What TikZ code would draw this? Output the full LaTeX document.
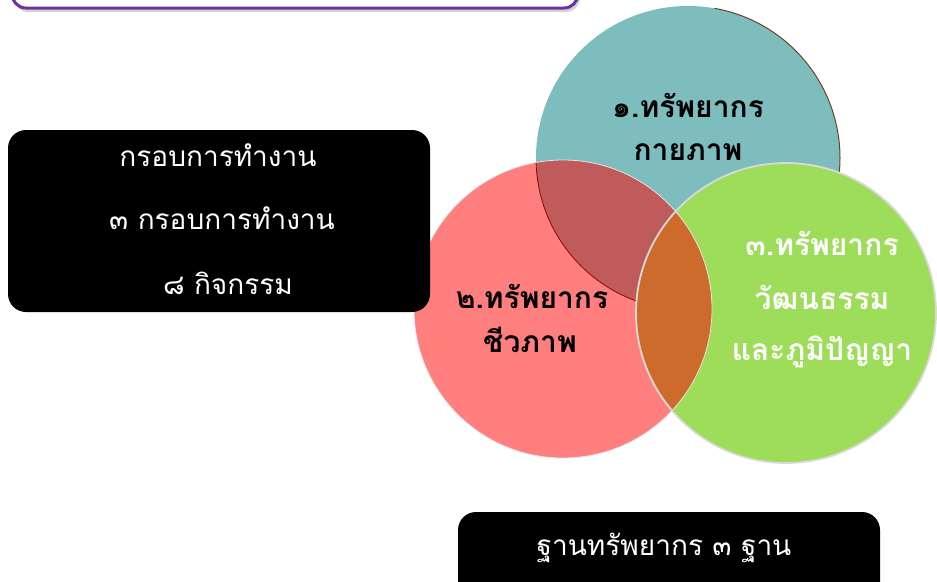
\documentclass[tikz,border=0pt]{standalone}
\usepackage{fontspec}
\newfontfamily\thaifont[Script=Thai]{Loma}
\usetikzlibrary{shadows}
\definecolor{kayacol}{HTML}{7DBDBE}
\definecolor{chiwacol}{HTML}{FF7F7F}
\definecolor{watthacol}{HTML}{9EDD5A}
\definecolor{kayachiwa}{HTML}{BF5B5B}
\definecolor{chiwawattha}{HTML}{CD6B2C}
\definecolor{framecol}{HTML}{7030A0}
\begin{document}
\begin{tikzpicture}[x=1pt,y=-1pt]
    \tikzstyle{every node}=[font=\thaifont]
    \tikzstyle{blackbox}=[fill=black, rounded corners=18pt]
    \tikzstyle{boxtext}=[text=white, font=\thaifont\fontsize{28}{32}\selectfont]
    \tikzstyle{ringtext}=[text=black, font=\thaifont\bfseries\fontsize{30}{34}\selectfont]
    \useasboundingbox (0,0) rectangle (937,581);

    % frame at the top, cut by the page edge
    \draw[framecol, line width=3pt, rounded corners=14pt, fill=white,
          drop shadow={opacity=0.35, shadow xshift=2pt, shadow yshift=-4pt}] (12,-40) rectangle (578,8);

    % circle centres
    \coordinate (kaya) at (688,158);
    \coordinate (chiwa) at (563,309);
    \coordinate (wattha) at (786,313);

    % the three circles
    \fill[kayacol] (kaya) circle (152pt);
    \draw[black!45!brown, line width=1pt] (kaya) ++(-30:152pt) arc (-30:80:152pt);
    \fill[chiwacol] (chiwa) circle (149pt);
    \begin{scope}
        \clip (chiwa) circle (149pt);
        \fill[kayachiwa] (kaya) circle (152pt);
        \draw[red!60!black, line width=0.8pt] (kaya) circle (152pt);
    \end{scope}
    \fill[watthacol] (wattha) circle (150pt);
    \begin{scope}
        \clip (chiwa) circle (149pt);
        \fill[chiwawattha] (wattha) circle (150pt);
    \end{scope}
    \draw[white!90!black, line width=0.8pt] (chiwa) circle (149pt);
    \draw[white!85!black, line width=1.8pt] (wattha) circle (150pt);

    % texts in the circles
    \node[ringtext] (kaya1) at (688,105) {๑.ทรัพยากร};
    \node[ringtext] (kaya2) at (688,152) {กายภาพ};
    \node[ringtext] (chiwa1) at (532,296) {๒.ทรัพยากร};
    \node[ringtext] (chiwa2) at (530,340) {ชีวภาพ};
    \node[ringtext, text=white] (wattha1) at (822,243) {๓.ทรัพยากร};
    \node[ringtext, text=white] (wattha2) at (822,297) {วัฒนธรรม};
    \node[ringtext, text=white] (wattha3) at (822,352) {และภูมิปัญญา};

    % box on the left
    \fill[blackbox] (8,130) rectangle (430,312);
    \node[boxtext] (frame1) at (218,155) {กรอบการทำงาน};
    \node[boxtext] (frame2) at (222,218) {๓ กรอบการทำงาน};
    \node[boxtext] (frame3) at (228,283) {๘ กิจกรรม};

    % box at the bottom
    \fill[blackbox] (458,512) rectangle (880,600);
    \node[boxtext] (base) at (664,548) {ฐานทรัพยากร ๓ ฐาน};
\end{tikzpicture}
\end{document}
